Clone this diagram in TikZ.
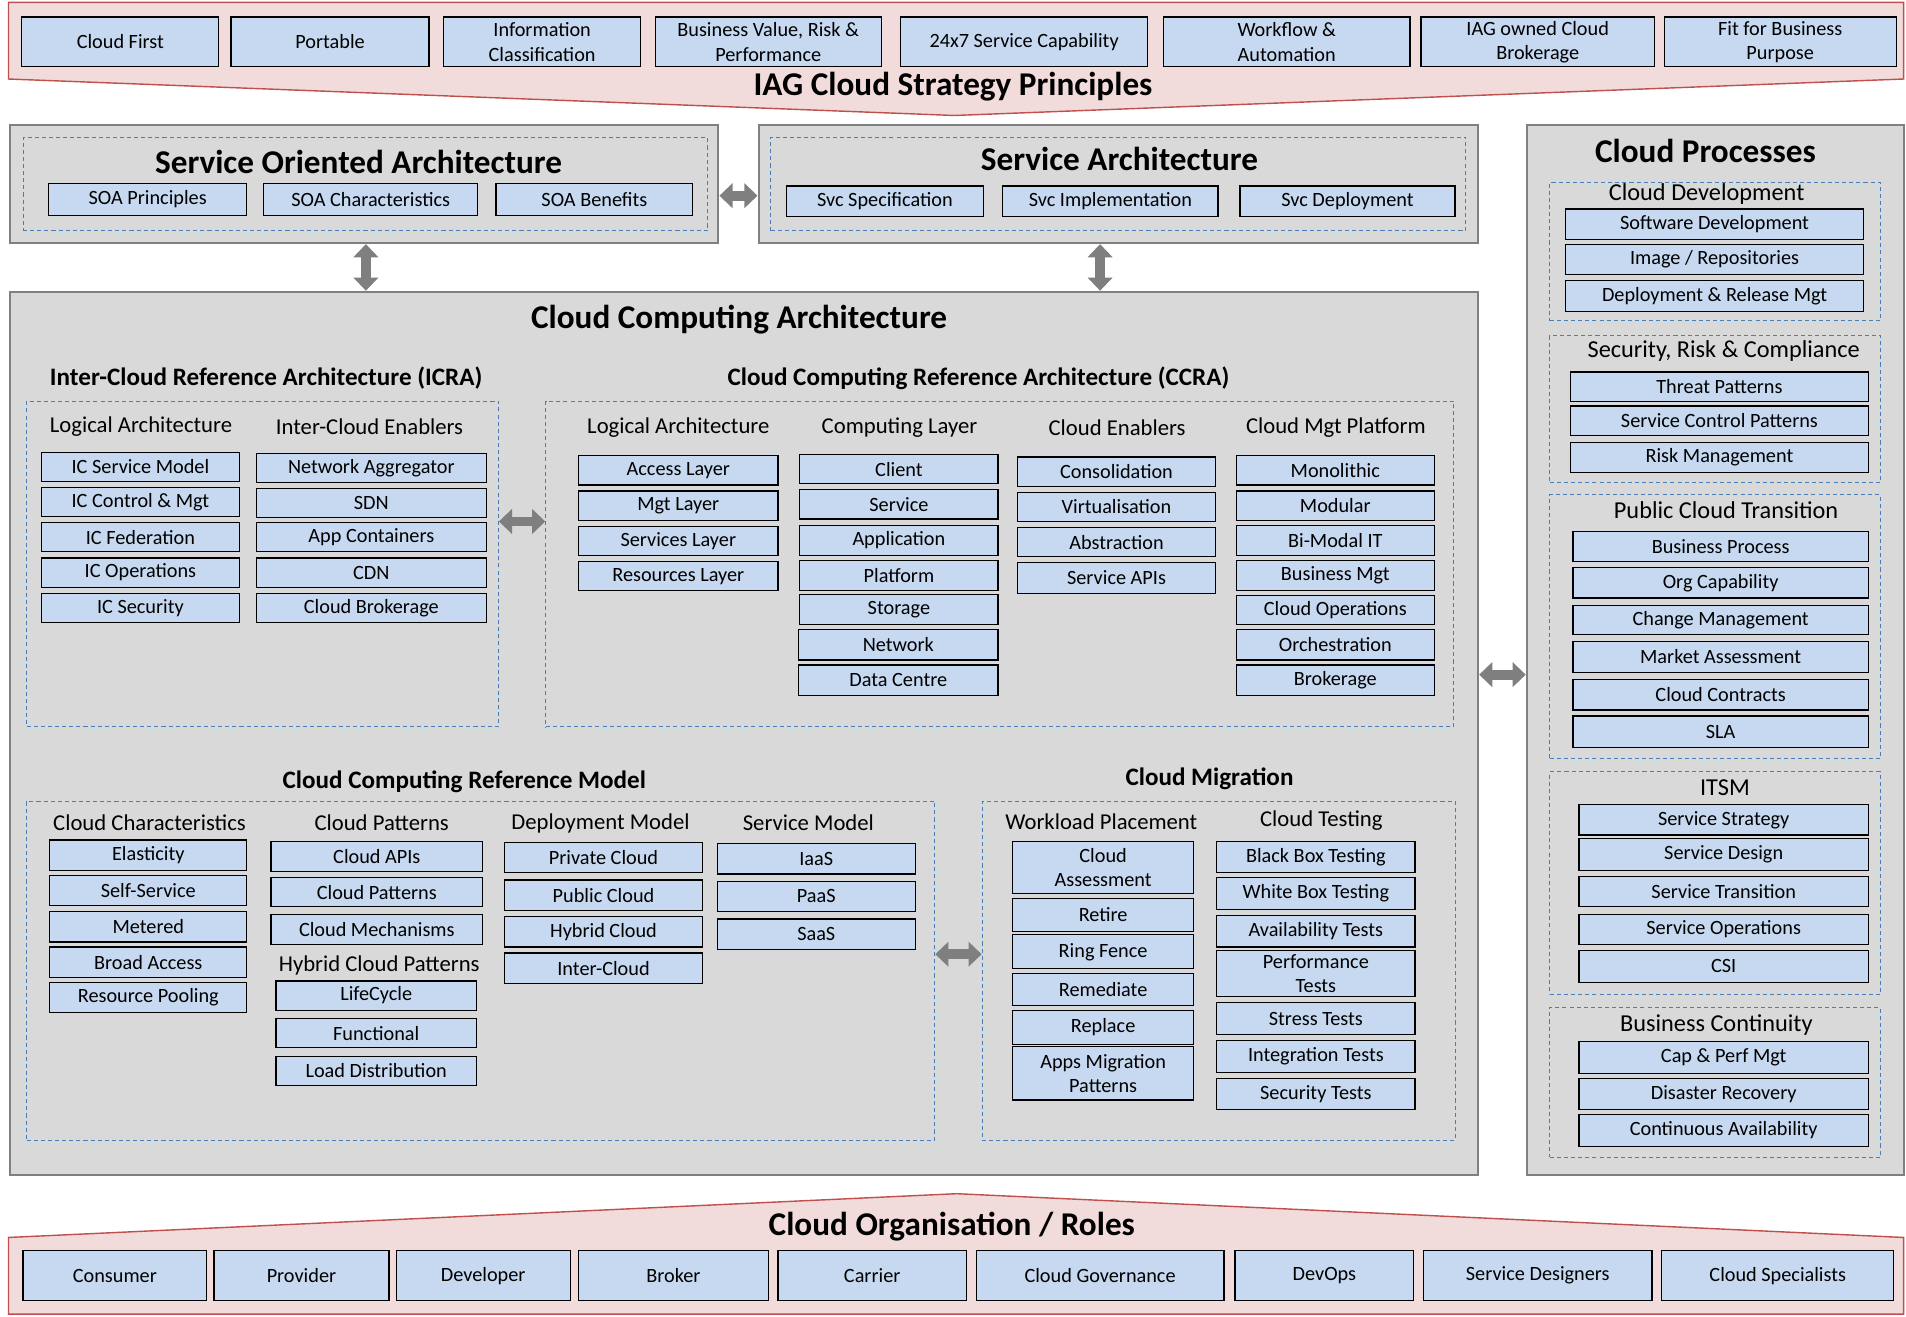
\documentclass[tikz,border=0pt]{standalone}
\usepackage{fontspec}
\setmainfont{Carlito}
\usetikzlibrary{arrows.meta}
\definecolor{boxblue}{HTML}{C6D9F1}
\definecolor{panelgray}{HTML}{D9D9D9}
\definecolor{panelborder}{HTML}{808080}
\definecolor{dashblue}{HTML}{4A7EBB}
\definecolor{pinkfill}{HTML}{F2DCDB}
\definecolor{pinkborder}{HTML}{C0504D}
\definecolor{arrowgray}{HTML}{7F7F7F}
\newcommand{\rbox}[7]{\node[#1, minimum width={(#5-#3)*0.6pt}, minimum height={(#6-#4)*0.6pt}] (#2) at ({(#3+#5)/2},{(#4+#6)/2}) {#7};}
\tikzset{
  bx/.style={draw=black, fill=boxblue, line width=0.6pt, inner sep=0.5pt, align=center, font=\fontsize{10}{12}\selectfont},
  panel/.style={draw=panelborder, fill=panelgray, line width=1pt, inner sep=0},
  dbox/.style={draw=dashblue, line width=0.5pt, inner sep=0, dash pattern=on 2pt off 1.5pt},
  hdr/.style={font=\fontsize{11.2}{13}\selectfont, inner sep=0},
  grp/.style={font=\fontsize{12}{14}\selectfont, inner sep=0},
  ttl/.style={font=\bfseries\fontsize{16.4}{19}\selectfont, inner sep=0},
  sub/.style={font=\bfseries\fontsize{12.4}{14}\selectfont, inner sep=0},
  dbl/.style={draw=arrowgray, line width=4.8pt, {Triangle[length=6.5pt,width=12pt]}-{Triangle[length=6.5pt,width=12pt]}},
  banner/.style={draw=pinkborder, fill=pinkfill, line width=0.7pt}
}
\begin{document}
\begin{tikzpicture}[x=0.6pt,y=-0.6pt]
\useasboundingbox (0,0) rectangle (1568,1083);
% ---------- top banner ----------
\draw[banner] (7,2) -- (1566,2) -- (1566,65) -- (785,95) -- (7,65) -- cycle;
\rbox{bx}{p1}{18}{14}{180}{55}{Cloud First}
\rbox{bx}{p2}{190}{14}{353}{55}{Portable}
\rbox{bx}{p3}{365}{14}{527}{55}{Information\\Classification}
\rbox{bx}{p4}{539}{14}{725}{55}{Business Value, Risk \&\\Performance}
\rbox{bx}{p5}{741}{14}{944}{55}{24x7 Service Capability}
\rbox{bx}{p6}{957}{14}{1160}{55}{Workflow \&\\Automation}
\rbox{bx}{p7}{1169}{14}{1361}{55}{IAG owned Cloud\\Brokerage}
\rbox{bx}{p8}{1369}{14}{1560}{55}{Fit for Business\\Purpose}
\node[ttl] (iagt) at (784,71) {IAG Cloud Strategy Principles};
% ---------- SOA ----------
\rbox{panel}{soa}{8}{103}{591}{200}{}
\rbox{dbox}{soad}{19}{113}{582}{190}{}
\node[ttl] (soat) at (295,133) {Service Oriented Architecture};
\rbox{bx}{soa1}{40}{151}{203}{177}{SOA Principles}
\rbox{bx}{soa2}{217}{151}{393}{177}{SOA Characteristics}
\rbox{bx}{soa3}{408}{151}{570}{177}{SOA Benefits}
% ---------- Service Architecture ----------
\rbox{panel}{sa}{624}{103}{1216}{200}{}
\rbox{dbox}{sad}{634}{113}{1206}{190}{}
\node[ttl] (sat) at (921,131) {Service Architecture};
\rbox{bx}{sa1}{647}{153}{809}{178}{Svc Specification}
\rbox{bx}{sa2}{825}{153}{1002}{178}{Svc Implementation}
\rbox{bx}{sa3}{1020}{153}{1197}{178}{Svc Deployment}
% ---------- Cloud Computing Architecture ----------
\rbox{panel}{cca}{8}{240}{1216}{967}{}
\node[ttl] (ccat) at (608,263) {Cloud Computing Architecture};
% ICRA
\node[sub] (icrat) at (219,311) {Inter-Cloud Reference Architecture (ICRA)};
\rbox{dbox}{icra}{22}{330}{410}{598}{}
\node[hdr] (icrah1) at (116,351) {Logical Architecture};
\node[hdr] (icrah2) at (304,351) {Inter-Cloud Enablers};
\rbox{bx}{ic1}{34}{372}{197}{396}{IC Service Model}
\rbox{bx}{ic2}{34}{401}{197}{425}{IC Control \& Mgt}
\rbox{bx}{ic3}{34}{430}{197}{454}{IC Federation}
\rbox{bx}{ic4}{34}{459}{197}{483}{IC Operations}
\rbox{bx}{ic5}{34}{488}{197}{512}{IC Security}
\rbox{bx}{ie1}{211}{373}{400}{397}{Network Aggregator}
\rbox{bx}{ie2}{211}{402}{400}{426}{SDN}
\rbox{bx}{ie3}{211}{430}{400}{454}{App Containers}
\rbox{bx}{ie4}{211}{459}{400}{483}{CDN}
\rbox{bx}{ie5}{211}{488}{400}{512}{Cloud Brokerage}
% CCRA
\node[sub] (ccrat) at (805,311) {Cloud Computing Reference Architecture (CCRA)};
\rbox{dbox}{ccra}{449}{330}{1196}{598}{}
\node[hdr] (ccrah1) at (558,352) {Logical Architecture};
\node[hdr] (ccrah2) at (740,352) {Computing Layer};
\node[hdr] (ccrah3) at (919,352) {Cloud Enablers};
\node[hdr] (ccrah4) at (1099,352) {Cloud Mgt Platform};
\rbox{bx}{la1}{476}{375}{640}{399}{Access Layer}
\rbox{bx}{la2}{476}{404}{640}{428}{Mgt Layer}
\rbox{bx}{la3}{476}{433}{640}{457}{Services Layer}
\rbox{bx}{la4}{476}{462}{640}{486}{Resources Layer}
\rbox{bx}{cl1}{658}{374}{821}{398}{Client}
\rbox{bx}{cl2}{658}{403}{821}{427}{Service}
\rbox{bx}{cl3}{658}{432}{821}{457}{Application}
\rbox{bx}{cl4}{658}{461}{821}{486}{Platform}
\rbox{bx}{cl5}{658}{489}{821}{514}{Storage}
\rbox{bx}{cl6}{657}{518}{821}{543}{Network}
\rbox{bx}{cl7}{657}{547}{821}{572}{Data Centre}
\rbox{bx}{ce1}{837}{376}{1000}{400}{Consolidation}
\rbox{bx}{ce2}{837}{405}{1000}{429}{Virtualisation}
\rbox{bx}{ce3}{837}{434}{1000}{458}{Abstraction}
\rbox{bx}{ce4}{837}{463}{1000}{488}{Service APIs}
\rbox{bx}{cm1}{1017}{375}{1180}{399}{Monolithic}
\rbox{bx}{cm2}{1017}{404}{1180}{428}{Modular}
\rbox{bx}{cm3}{1017}{432}{1180}{457}{Bi-Modal IT}
\rbox{bx}{cm4}{1017}{461}{1180}{486}{Business Mgt}
\rbox{bx}{cm5}{1017}{490}{1180}{514}{Cloud Operations}
\rbox{bx}{cm6}{1017}{518}{1180}{543}{Orchestration}
\rbox{bx}{cm7}{1017}{547}{1180}{572}{Brokerage}
% CCRM
\node[sub] (ccrmt) at (382,643) {Cloud Computing Reference Model};
\rbox{dbox}{ccrm}{22}{659}{769}{938}{}
\node[hdr] (ccrmh1) at (123,677) {Cloud Characteristics};
\node[hdr] (ccrmh2) at (314,677) {Cloud Patterns};
\node[hdr] (ccrmh3) at (494,677) {Deployment Model};
\node[hdr] (ccrmh4) at (665,677) {Service Model};
\rbox{bx}{cc1}{41}{691}{203}{716}{Elasticity}
\rbox{bx}{cc2}{41}{720}{203}{745}{Self-Service}
\rbox{bx}{cc3}{41}{750}{203}{775}{Metered}
\rbox{bx}{cc4}{41}{779}{203}{804}{Broad Access}
\rbox{bx}{cc5}{41}{808}{203}{833}{Resource Pooling}
\rbox{bx}{cp1}{223}{692}{397}{717}{Cloud APIs}
\rbox{bx}{cp2}{223}{722}{397}{746}{Cloud Patterns}
\rbox{bx}{cp3}{223}{752}{397}{777}{Cloud Mechanisms}
\node[hdr] (hcp) at (312,794) {Hybrid Cloud Patterns};
\rbox{bx}{hc1}{227}{807}{392}{831}{LifeCycle}
\rbox{bx}{hc2}{227}{838}{392}{862}{Functional}
\rbox{bx}{hc3}{227}{869}{392}{893}{Load Distribution}
\rbox{bx}{dm1}{415}{693}{578}{718}{Private Cloud}
\rbox{bx}{dm2}{415}{724}{578}{749}{Public Cloud}
\rbox{bx}{dm3}{415}{754}{578}{779}{Hybrid Cloud}
\rbox{bx}{dm4}{415}{784}{578}{809}{Inter-Cloud}
\rbox{bx}{sm1}{590}{694}{753}{719}{IaaS}
\rbox{bx}{sm2}{590}{725}{753}{750}{PaaS}
\rbox{bx}{sm3}{590}{756}{753}{781}{SaaS}
% Cloud Migration
\node[sub] (cmt) at (995,641) {Cloud Migration};
\rbox{dbox}{cmig}{808}{659}{1197}{938}{}
\node[hdr] (cmh1) at (906,676) {Workload Placement};
\node[hdr] (cmh2) at (1087,675) {Cloud Testing};
\rbox{bx}{wp1}{833}{692}{982}{735}{Cloud\\Assessment}
\rbox{bx}{wp2}{833}{739}{982}{766}{Retire}
\rbox{bx}{wp3}{833}{769}{982}{797}{Ring Fence}
\rbox{bx}{wp4}{833}{801}{982}{827}{Remediate}
\rbox{bx}{wp5}{833}{831}{982}{859}{Replace}
\rbox{bx}{wp6}{833}{861}{982}{905}{Apps Migration\\Patterns}
\rbox{bx}{ct1}{1001}{692}{1164}{718}{Black Box Testing}
\rbox{bx}{ct2}{1001}{722}{1164}{748}{White Box Testing}
\rbox{bx}{ct3}{1001}{753}{1164}{779}{Availability Tests}
\rbox{bx}{ct4}{1001}{782}{1164}{820}{Performance\\Tests}
\rbox{bx}{ct5}{1001}{825}{1164}{851}{Stress Tests}
\rbox{bx}{ct6}{1001}{856}{1164}{882}{Integration Tests}
\rbox{bx}{ct7}{1001}{887}{1164}{913}{Security Tests}
% ---------- Cloud Processes ----------
\rbox{panel}{cpr}{1256}{103}{1566}{967}{}
\node[ttl] (cprt) at (1403,124) {Cloud Processes};
\rbox{dbox}{cdev}{1275}{150}{1547}{264}{}
\node[grp] (cdevh) at (1404,160) {Cloud Development};
\rbox{bx}{cd1}{1288}{172}{1533}{197}{Software Development}
\rbox{bx}{cd2}{1288}{201}{1533}{226}{Image / Repositories}
\rbox{bx}{cd3}{1288}{231}{1533}{256}{Deployment \& Release Mgt}
\rbox{dbox}{src}{1275}{276}{1547}{397}{}
\node[grp] (srch) at (1418,289) {Security, Risk \& Compliance};
\rbox{bx}{sr1}{1292}{306}{1537}{330}{Threat Patterns}
\rbox{bx}{sr2}{1292}{334}{1537}{358}{Service Control Patterns}
\rbox{bx}{sr3}{1292}{364}{1537}{389}{Risk Management}
\rbox{dbox}{pct}{1275}{407}{1547}{624}{}
\node[grp] (pcth) at (1420,420) {Public Cloud Transition};
\rbox{bx}{pc1}{1294}{437}{1537}{462}{Business Process}
\rbox{bx}{pc2}{1294}{467}{1537}{492}{Org Capability}
\rbox{bx}{pc3}{1294}{498}{1537}{522}{Change Management}
\rbox{bx}{pc4}{1294}{528}{1537}{553}{Market Assessment}
\rbox{bx}{pc5}{1294}{559}{1537}{584}{Cloud Contracts}
\rbox{bx}{pc6}{1294}{589}{1537}{615}{SLA}
\rbox{dbox}{itsm}{1275}{635}{1547}{818}{}
\node[grp] (itsmh) at (1419,648) {ITSM};
\rbox{bx}{it1}{1299}{662}{1537}{687}{Service Strategy}
\rbox{bx}{it2}{1299}{690}{1537}{716}{Service Design}
\rbox{bx}{it3}{1299}{721}{1537}{746}{Service Transition}
\rbox{bx}{it4}{1299}{752}{1537}{777}{Service Operations}
\rbox{bx}{it5}{1299}{782}{1537}{808}{CSI}
\rbox{dbox}{bcon}{1275}{829}{1547}{952}{}
\node[grp] (bconh) at (1412,843) {Business Continuity};
\rbox{bx}{bc1}{1299}{857}{1537}{883}{Cap \& Perf Mgt}
\rbox{bx}{bc2}{1299}{887}{1537}{913}{Disaster Recovery}
\rbox{bx}{bc3}{1299}{917}{1537}{943}{Continuous Availability}
% ---------- bottom banner ----------
\draw[banner] (7,1018) -- (787,982) -- (1566,1018) -- (1566,1081) -- (7,1081) -- cycle;
\node[ttl] (orgt) at (783,1009) {Cloud Organisation / Roles};
\rbox{bx}{r1}{19}{1029}{170}{1070}{Consumer}
\rbox{bx}{r2}{176}{1029}{320}{1070}{Provider}
\rbox{bx}{r3}{326}{1029}{469}{1070}{Developer}
\rbox{bx}{r4}{476}{1029}{632}{1070}{Broker}
\rbox{bx}{r5}{640}{1029}{795}{1070}{Carrier}
\rbox{bx}{r6}{803}{1029}{1007}{1070}{Cloud Governance}
\rbox{bx}{r7}{1016}{1029}{1163}{1070}{DevOps}
\rbox{bx}{r8}{1171}{1029}{1359}{1070}{Service Designers}
\rbox{bx}{r9}{1367}{1029}{1558}{1070}{Cloud Specialists}
% ---------- connectors ----------
\draw[dbl] (soa.east |- 0,161) -- (sa.west |- 0,161);
\draw[dbl] (soa.south -| 301,0) -- (cca.north -| 301,0);
\draw[dbl] (sa.south -| 905,0) -- (cca.north -| 905,0);
\draw[dbl] (icra.east |- 0,429) -- (ccra.west |- 0,429);
\draw[dbl] (ccrm.east |- 0,785) -- (cmig.west |- 0,785);
\draw[dbl] (cca.east |- 0,555) -- (cpr.west |- 0,555);
\end{tikzpicture}
\end{document}
